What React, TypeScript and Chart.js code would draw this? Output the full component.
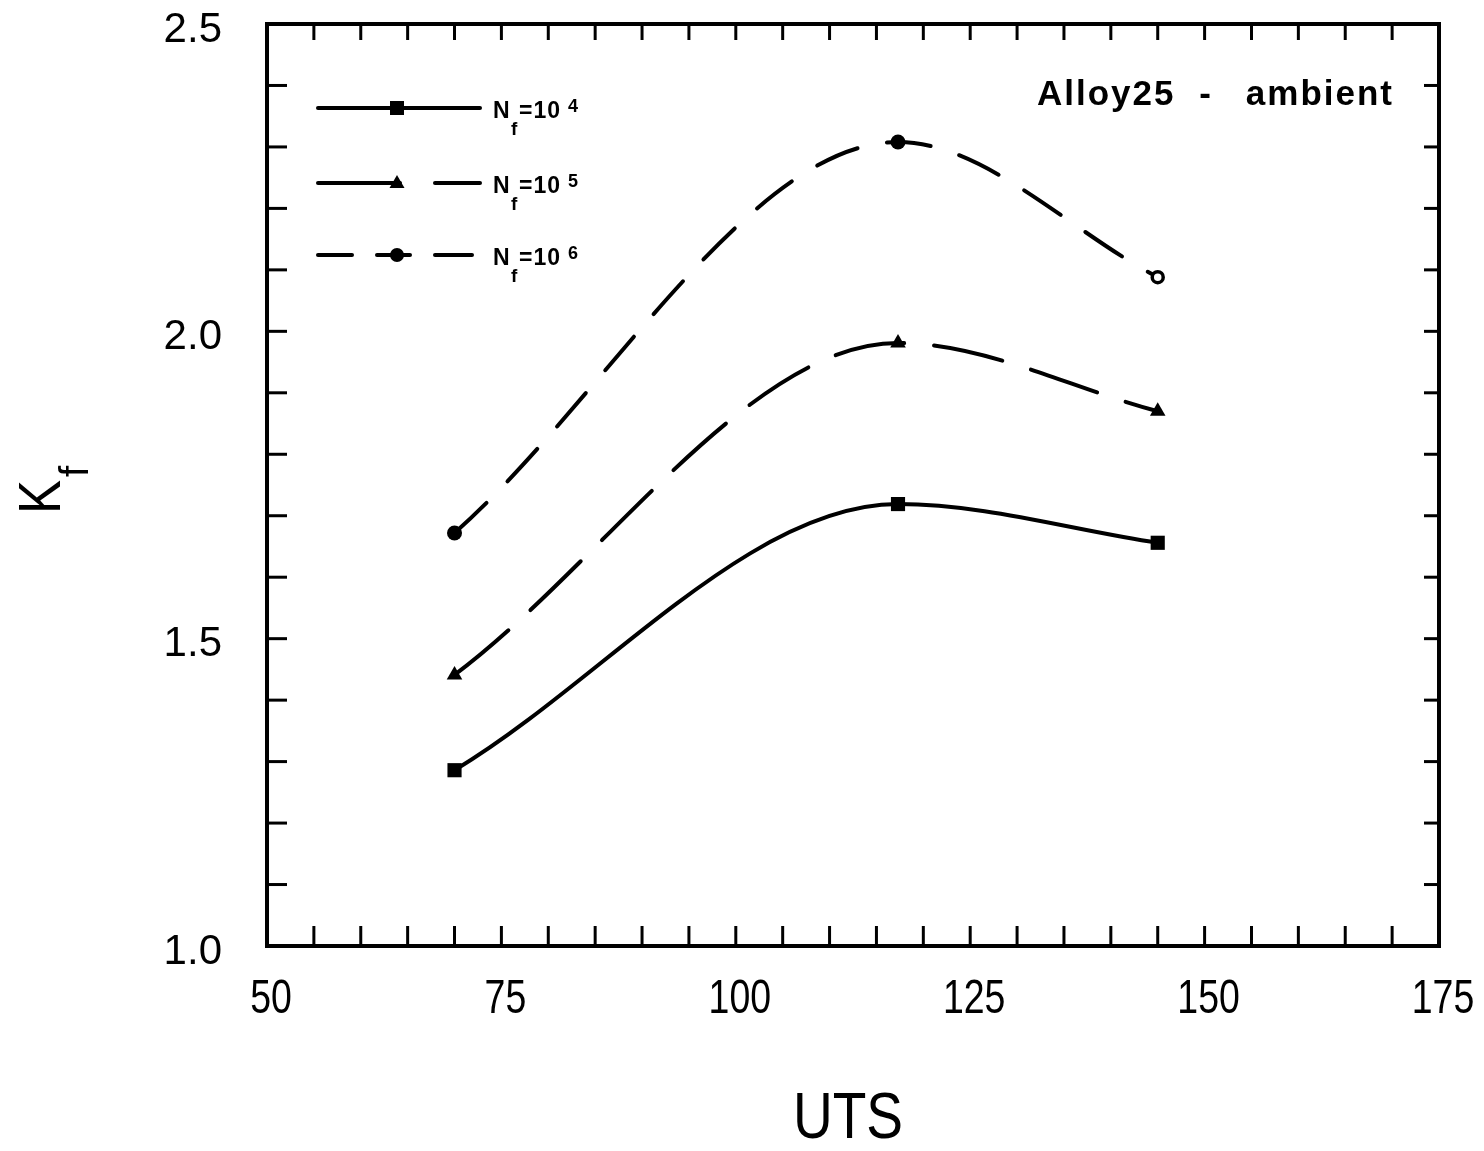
import { useEffect, useRef } from "react";
import { Chart, registerables } from "chart.js";

Chart.register(...registerables);

// ---- data ----
const uts = [70, 117.3, 145];
const kfN4 = [1.286, 1.719, 1.656];
const kfN5 = [1.441, 1.981, 1.87];
const kfN6 = [1.672, 2.308, 2.088];
const seriesExponents = ["4", "5", "6"];
const xTicks = [50, 75, 100, 125, 150, 175];
const yTicks = [1.0, 1.5, 2.0, 2.5];
const xTitle = "UTS";
const yTitleMain = "K";
const yTitleSub = "f";
const annotationParts = ["Alloy25", "-", "ambient"];

const X_MIN = 50, X_MAX = 175, X_MINOR = 5;
const Y_MIN = 1.0, Y_MAX = 2.5, Y_MINOR = 0.1;

const SANS = '"Liberation Sans", Arial, Helvetica, sans-serif';

const toXY = (ys: number[]) => uts.map((x, i) => ({ x, y: ys[i] }));

const zeroPad = (s: any) => {
  s.paddingTop = 0;
  s.paddingBottom = 0;
  s.paddingLeft = 0;
  s.paddingRight = 0;
};

function scaledText(
  ctx: CanvasRenderingContext2D,
  text: string,
  x: number,
  y: number,
  font: string,
  sx: number,
  align: CanvasTextAlign
) {
  ctx.save();
  ctx.font = font;
  ctx.translate(x, y);
  ctx.scale(sx, 1);
  ctx.textAlign = align;
  ctx.textBaseline = "alphabetic";
  ctx.fillText(text, 0, 0);
  ctx.restore();
}

const decorPlugin = {
  id: "decor",
  afterDraw(chart: any) {
    const { ctx, chartArea: ca, scales } = chart;
    const xs = scales.x, ys = scales.y;
    ctx.save();
    ctx.strokeStyle = "#000";
    ctx.fillStyle = "#000";
    const line = (x1: number, y1: number, x2: number, y2: number) => {
      ctx.beginPath();
      ctx.moveTo(x1, y1);
      ctx.lineTo(x2, y2);
      ctx.stroke();
    };
    // inward ticks
    ctx.lineWidth = 3;
    ctx.lineCap = "butt";
    const nx = Math.round((X_MAX - X_MIN) / X_MINOR);
    for (let i = 1; i < nx; i++) {
      const px = xs.getPixelForValue(X_MIN + i * X_MINOR);
      line(px, ca.bottom, px, ca.bottom - 20);
      line(px, ca.top, px, ca.top + 16);
    }
    const ny = Math.round((Y_MAX - Y_MIN) / Y_MINOR);
    for (let i = 1; i < ny; i++) {
      const py = ys.getPixelForValue(Y_MIN + i * Y_MINOR);
      line(ca.left, py, ca.left + 20, py);
      line(ca.right, py, ca.right - 15, py);
    }
    // frame
    ctx.lineWidth = 4;
    ctx.strokeRect(ca.left, ca.top, ca.right - ca.left, ca.bottom - ca.top);

    // x tick labels (narrow face), positioned by the x scale
    xs.ticks.forEach((t: any) => {
      const px = xs.getPixelForValue(t.value);
      scaledText(ctx, String(t.value), px + 4, ca.bottom + 67, `48px ${SANS}`, 0.78, "center");
    });

    // x title
    scaledText(ctx, xTitle, 848, 1138, `64px ${SANS}`, 0.86, "center");

    // y title (rotated)
    ctx.save();
    ctx.translate(60, 514);
    ctx.rotate(-Math.PI / 2);
    ctx.save();
    ctx.scale(0.85, 1);
    ctx.font = `60px ${SANS}`;
    ctx.textAlign = "left";
    ctx.fillText(yTitleMain, 0, 0);
    ctx.restore();
    ctx.font = `40px ${SANS}`;
    ctx.textAlign = "left";
    ctx.fillText(yTitleSub, 37, 28);
    ctx.restore();

    // annotation
    ctx.font = `bold 35px ${SANS}`;
    (ctx as any).letterSpacing = "2px";
    ctx.textBaseline = "alphabetic";
    ctx.textAlign = "left";
    ctx.fillText(annotationParts[0], 1037, 105);
    ctx.textAlign = "center";
    ctx.fillText(annotationParts[1], 1206, 105);
    ctx.textAlign = "right";
    ctx.fillText(annotationParts[2], 1394, 105);
    (ctx as any).letterSpacing = "0px";

    // legend
    const rows = [
      { y: 108, segs: [[318, 480]], marker: "rect" },
      { y: 183, segs: [[318, 400], [435, 480]], marker: "triangle" },
      { y: 255, segs: [[318, 352], [377, 410], [435, 472]], marker: "circle" },
    ];
    rows.forEach((r, i) => {
      ctx.lineWidth = 4;
      ctx.lineCap = "round";
      r.segs.forEach(([a, b]) => line(a, r.y, b, r.y));
      const mx = 397;
      ctx.beginPath();
      if (r.marker === "rect") {
        ctx.rect(mx - 7, r.y - 7, 14, 14);
      } else if (r.marker === "triangle") {
        ctx.moveTo(mx, r.y - 8);
        ctx.lineTo(mx + 7.5, r.y + 5);
        ctx.lineTo(mx - 7.5, r.y + 5);
        ctx.closePath();
      } else {
        ctx.arc(mx, r.y, 7, 0, Math.PI * 2);
      }
      ctx.fill();
      ctx.textAlign = "left";
      ctx.textBaseline = "alphabetic";
      ctx.font = `bold 23px ${SANS}`;
      ctx.fillText("N", 493, r.y + 10);
      ctx.font = `bold 19px ${SANS}`;
      ctx.fillText("f", 511, r.y + 27);
      ctx.font = `bold 23px ${SANS}`;
      (ctx as any).letterSpacing = "1px";
      ctx.fillText("=10", 519, r.y + 10);
      (ctx as any).letterSpacing = "0px";
      ctx.font = `bold 18px ${SANS}`;
      ctx.fillText(seriesExponents[i], 568, r.y + 4);
    });
    ctx.restore();
  },
};

export default function App() {
  const ref = useRef<HTMLCanvasElement | null>(null);
  useEffect(() => {
    document.body.style.margin = "0";
    const canvas = ref.current;
    if (!canvas) return;
    const common = {
      borderColor: "#000",
      borderWidth: 4,
      borderCapStyle: "round" as const,
      pointBackgroundColor: "#000",
      pointBorderColor: "#000",
      cubicInterpolationMode: "monotone" as const,
      fill: false,
    };
    const chart = new Chart(canvas, {
      type: "line",
      data: {
        datasets: [
          {
            ...common,
            label: "Nf=10^4",
            data: toXY(kfN4),
            pointStyle: "rect",
            pointRadius: 10,
            pointBorderWidth: 0,
          },
          {
            ...common,
            label: "Nf=10^5",
            data: toXY(kfN5),
            borderDash: [70, 30],
            pointStyle: "triangle",
            pointRadius: 9,
            pointBorderWidth: 0,
          },
          {
            ...common,
            label: "Nf=10^6",
            data: toXY(kfN6),
            borderDash: [44, 30],
            pointStyle: "circle",
            pointRadius: [7.5, 7.5, 5.5],
            pointBorderWidth: [0, 0, 3.5],
            pointBackgroundColor: ["#000", "#000", "#fff"],
          },
        ],
      },
      options: {
        animation: false,
        responsive: false,
        events: [],
        layout: { padding: { top: 24, right: 45, left: 0, bottom: 0 } },
        plugins: {
          legend: { display: false },
          tooltip: { enabled: false },
        },
        scales: {
          x: {
            type: "linear",
            min: X_MIN,
            max: X_MAX,
            afterBuildTicks: (s: any) => {
              s.ticks = xTicks.map((v) => ({ value: v }));
            },
            afterFit: (s: any) => {
              s.height = 205;
              zeroPad(s);
            },
            grid: { display: false },
            border: { display: false },
            ticks: { display: false },
          },
          y: {
            type: "linear",
            min: Y_MIN,
            max: Y_MAX,
            afterBuildTicks: (s: any) => {
              s.ticks = yTicks.map((v) => ({ value: v }));
            },
            afterFit: (s: any) => {
              s.width = 267;
              zeroPad(s);
            },
            grid: { display: false },
            border: { display: false },
            ticks: {
              color: "#000",
              padding: 37,
              labelOffset: 6,
              autoSkip: false,
              font: { family: SANS, size: 42 },
              callback: (v: any) => Number(v).toFixed(1),
            },
          },
        },
      },
      plugins: [decorPlugin],
    });
    return () => chart.destroy();
  }, []);
  return (
    <div style={{ width: 1484, height: 1151, background: "#fff" }}>
      <canvas ref={ref} width={1484} height={1151} style={{ display: "block" }} />
    </div>
  );
}
